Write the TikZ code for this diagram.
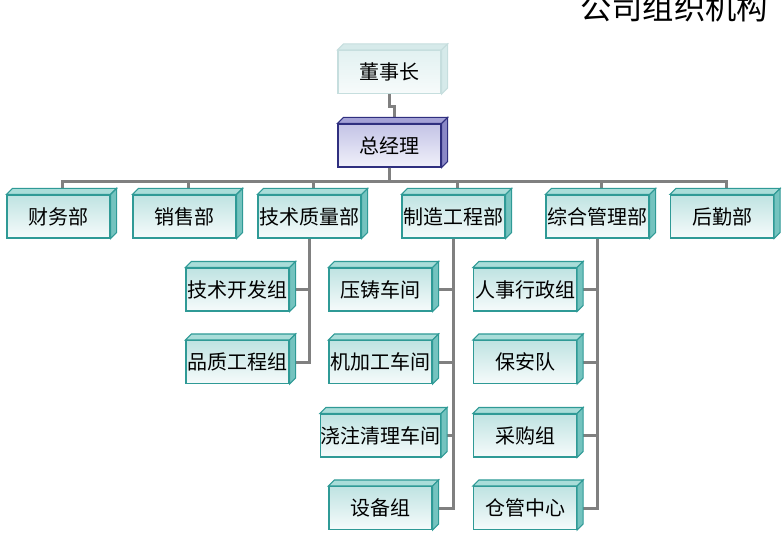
\documentclass[tikz,border=0pt]{standalone}
\usepackage{fontspec}
\setmainfont{Noto Sans CJK SC}
\definecolor{tealline}{HTML}{2F9A96}
\definecolor{tealtop}{HTML}{BFE3E2}
\definecolor{tealbot}{HTML}{F6FBFB}
\definecolor{tealdtop}{HTML}{A9DDD9}
\definecolor{tealdside}{HTML}{74C3BF}
\definecolor{paleline}{HTML}{C6DEDE}
\definecolor{paletop}{HTML}{E2F1F1}
\definecolor{palebot}{HTML}{F7FBFB}
\definecolor{paledepth}{HTML}{D6EAEA}
\definecolor{navyline}{HTML}{2F2F7F}
\definecolor{lavtop}{HTML}{C4C4E6}
\definecolor{lavbot}{HTML}{F0F0FA}
\definecolor{lavdtop}{HTML}{A4A2D6}
\definecolor{lavdside}{HTML}{8A88C6}
\definecolor{connline}{HTML}{808080}
\begin{document}
\begin{tikzpicture}[x=0.75pt,y=-0.75pt,
  box/.style={draw=tealline,top color=tealtop,bottom color=tealbot,line width=0.8pt,
    minimum width=77.25pt,minimum height=32.25pt,inner sep=0pt,font=\fontsize{15}{15}\selectfont},
  palebox/.style={box,draw=paleline,top color=paletop,bottom color=palebot},
  gmbox/.style={box,draw=navyline,top color=lavtop,bottom color=lavbot},
  conn/.style={draw=connline,line width=2.25pt}]
\useasboundingbox (0,0) rectangle (784,552);

\node[anchor=base,font=\fontsize{23.5}{23.5}\selectfont] (title) at (674,20) {公司组织机构};

\node[palebox] (chair) at (389.5,72) {董事长};
\node[gmbox] (gm) at (389.5,145.5) {总经理};

\node[box] (fin) at (58.5,216.5) {财务部};
\node[box] (sale) at (184.5,216.5) {销售部};
\node[box] (tech) at (309.5,216.5) {技术质量部};
\node[box] (mfg) at (453.5,216.5) {制造工程部};
\node[box] (admin) at (597.5,216.5) {综合管理部};
\node[box] (logi) at (722,216.5) {后勤部};

\node[box] (dev) at (237.5,289.5) {技术开发组};
\node[box] (qual) at (237.5,362) {品质工程组};

\node[box] (cast) at (380.5,289.5) {压铸车间};
\node[box] (mach) at (380.5,362) {机加工车间};
\node[box] (pour) at (380.5,435.5) {浇注清理车间};
\node[box] (equip) at (380.5,508) {设备组};

\node[box] (hr) at (525,289.5) {人事行政组};
\node[box] (guard) at (525,362) {保安队};
\node[box] (buy) at (525,435.5) {采购组};
\node[box] (store) at (525,508) {仓管中心};

% connectors
\path[conn] (chair.south) -- ++(0,12) -| ([shift={(5,0)}]gm.north);
\foreach \d in {fin,sale,tech,mfg,admin,logi}
  \path[conn] (gm.south) -- ++(0,14) -| ([shift={(4,0)}]\d.north);
\foreach \s in {dev,qual}
  \path[conn] (tech.south) |- (\s.east);
\foreach \s in {cast,mach,pour,equip}
  \path[conn] (mfg.south) |- (\s.east);
\foreach \s in {hr,guard,buy,store}
  \path[conn] (admin.south) |- (\s.east);

% depth of the boxes
\foreach \n/\t/\s/\l in {chair/paledepth/paledepth/paleline,gm/lavdtop/lavdside/navyline,
    fin/tealdtop/tealdside/tealline,sale/tealdtop/tealdside/tealline,tech/tealdtop/tealdside/tealline,
    mfg/tealdtop/tealdside/tealline,admin/tealdtop/tealdside/tealline,logi/tealdtop/tealdside/tealline,
    dev/tealdtop/tealdside/tealline,qual/tealdtop/tealdside/tealline,cast/tealdtop/tealdside/tealline,
    mach/tealdtop/tealdside/tealline,pour/tealdtop/tealdside/tealline,equip/tealdtop/tealdside/tealline,
    hr/tealdtop/tealdside/tealline,guard/tealdtop/tealdside/tealline,buy/tealdtop/tealdside/tealline,
    store/tealdtop/tealdside/tealline}{
  \filldraw[fill=\t,draw=\l,line width=0.8pt] (\n.north west) -- ([shift={(6,-6)}]\n.north west)
    -- ([shift={(6,-6)}]\n.north east) -- (\n.north east) -- cycle;
  \filldraw[fill=\s,draw=\l,line width=0.8pt] (\n.north east) -- ([shift={(6,-6)}]\n.north east)
    -- ([shift={(6,-6)}]\n.south east) -- (\n.south east) -- cycle;
}
\end{tikzpicture}
\end{document}
